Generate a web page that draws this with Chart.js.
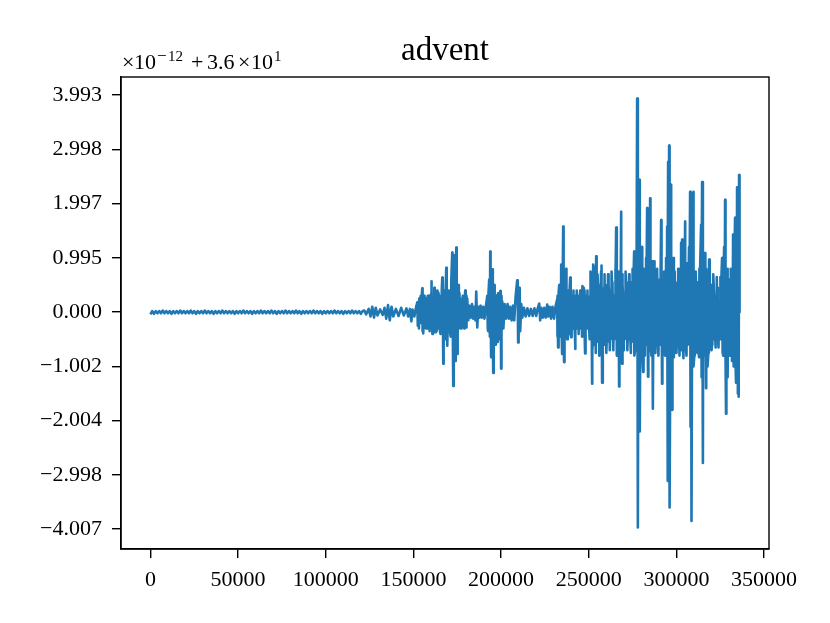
<!DOCTYPE html>
<html>
<head>
<meta charset="utf-8">
<script src="https://cdn.jsdelivr.net/npm/chart.js@4.4.1/dist/chart.umd.min.js"></script>
<style>
html,body{margin:0;padding:0;background:#fff;}
#wrap{width:830px;height:623px;}
</style>
</head>
<body>
<div id="wrap"><canvas id="c" width="830" height="623"></canvas></div>
<script>
// ---- data (x = sample index, y = value in units of 1e-12, offset 36) ----
const chartTitle = "advent";
const xTickValues = [0, 50000, 100000, 150000, 200000, 250000, 300000, 350000];
const yTickValues = [3.993, 2.998, 1.997, 0.995, 0, -1.002, -2.004, -2.998, -4.007];
const yTickLabels = ["3.993", "2.998", "1.997", "0.995", "0.000", "\u22121.002", "\u22122.004", "\u22122.998", "\u22124.007"];

const quietSegment = [
[0,-0.04],[1000,0.02],[2000,-0.03],[3000,0.02],[4000,-0.02],[5000,0.02],[6000,-0.02],[7000,0.03],[8000,-0.02],[9000,0.02],
[10000,-0.02],[11000,0.02],[12000,-0.03],[13000,0.02],[14000,-0.02],[15000,0.02],[16000,-0.02],[17000,0.03],[18000,-0.02],[19000,0.02],
[20000,-0.02],[21000,0.02],[22000,-0.02],[23000,0.03],[24000,-0.02],[25000,0.02],[26000,-0.03],[27000,0.02],[28000,-0.02],[29000,0.02],
[30000,-0.02],[31000,0.03],[32000,-0.02],[33000,0.02],[34000,-0.02],[35000,0.02],[36000,-0.03],[37000,0.02],[38000,-0.02],[39000,0.02],
[40000,-0.02],[41000,0.03],[42000,-0.02],[43000,0.02],[44000,-0.02],[45000,0.02],[46000,-0.02],[47000,0.02],[48000,-0.03],[49000,0.02],
[50000,-0.02],[51000,0.02],[52000,-0.02],[53000,0.03],[54000,-0.02],[55000,0.02],[56000,-0.02],[57000,0.02],[58000,-0.03],[59000,0.02],
[60000,-0.02],[61000,0.02],[62000,-0.02],[63000,0.03],[64000,-0.02],[65000,0.02],[66000,-0.02],[67000,0.02],[68000,-0.02],[69000,0.03],
[70000,-0.02],[71000,0.02],[72000,-0.03],[73000,0.02],[74000,-0.02],[75000,0.02],[76000,-0.02],[77000,0.03],[78000,-0.02],[79000,0.02],
[80000,-0.02],[81000,0.02],[82000,-0.02],[83000,0.03],[84000,-0.02],[85000,0.02],[86000,-0.03],[87000,0.02],[88000,-0.02],[89000,0.02],
[90000,-0.02],[91000,0.02],[92000,-0.02],[93000,0.03],[94000,-0.02],[95000,0.02],[96000,-0.02],[97000,0.02],[98000,-0.03],[99000,0.02],
[100000,-0.02],[101000,0.02],[102000,-0.02],[103000,0.02],[104000,-0.02],[105000,0.03],[106000,-0.02],[107000,0.02],[108000,-0.02],[109000,0.02],
[110000,-0.03],[111000,0.02],[112000,-0.02],[113000,0.02],[114000,-0.02],[115000,0.03],[116000,-0.02],[117000,0.02],[118000,-0.02],[119000,0.02],
[120000,-0.03],[121000,0.02]
];

const riseSegment = [
[122000,0.03],[123000,-0.04],[124500,0.06],[125500,-0.08],[126500,0.10],[127500,-0.10],[128500,0.08],
[129500,-0.06],[131000,0.05],[132500,-0.05],[133500,0.08],[134500,-0.12],[135500,0.13],[136500,-0.15],
[137500,0.10],[138500,-0.08],[140000,0.06],[141500,-0.07],[143000,0.08],[144500,-0.06],[146000,0.07],
[147000,-0.08],[148000,0.06],[148800,-0.17],[149500,0.05],[150500,-0.08],[151500,0.09]
];

const burstSegmentA = [
[152200,0.18],[152800,-0.12],[153600,0.15],[154200,-0.2],[155040,0.44],[155600,-0.39],[156200,0.2],
[156800,-0.25],[157300,0.25],[158000,-0.3],[159000,0.3],[159600,-0.28],[160170,0.57],[160800,-0.4],
[161300,0.3],[161900,0.45],[162500,-0.37],[163000,0.3],[163600,0.4],[164200,-0.3],[164700,0.23],
[165300,-0.4],[165900,0.3],[166440,0.64],[167000,-0.95],[167600,0.4],[168200,-0.5],[168720,0.82],
[169300,-0.62],[169900,0.3],[170430,0.25],[171000,-0.4],[171600,0.6],[172140,1.1],[172700,-1.36],
[173280,1.05],[173800,-0.9],[174420,1.19],[175000,-0.77],[175600,0.5],[176130,0.3],[176700,-0.3],
[177300,0.25],[177840,-0.25],[178400,0.2],[179000,-0.3],[179550,0.4],[180100,-0.28],[180690,0.25],
[181300,-0.15],[182000,0.12],[182700,-0.1],[183400,0.15],[184100,-0.12],[184800,0.1],[185400,-0.15],
[185820,0.38],[186400,-0.28],[187000,0.1],[187600,-0.1],[188300,0.12],[189000,-0.1],[189800,0.1],
[190500,-0.12],[191300,0.1],[192090,0.3],[192600,-0.35],[193200,0.6],[193800,1.12],[194300,-0.83],
[194940,0.79],[195500,-1.12],[196100,0.5],[196700,-0.6],[197220,0.3],[197800,-0.55],[198400,0.2],
[199000,-0.5],[199500,0.39],[200000,-1.04],[200640,0.2],[201300,-0.3],[202000,0.15],[202900,-0.12],
[203700,0.15],[204500,-0.12],[205200,0.1],[206000,-0.15],[206800,0.12],[207500,-0.15],[208300,0.3],
[209190,0.59],[209700,-0.56],[210330,0.45],[210900,-0.35],[211500,0.15],[212100,-0.1],[213000,0.08],
[214000,-0.08],[215000,0.07],[216000,-0.07],[217000,0.06],[218000,-0.07],[219000,0.07],[220000,-0.07],
[220800,0.06],[221730,0.16],[222300,-0.15],[223000,0.08],[223800,-0.1],[224600,0.08],[225400,-0.1],
[226290,0.14],[226900,-0.08],[227700,0.1],[228500,-0.12],[229300,0.1],[230200,-0.12],[231000,0.1]
];

const burstSegmentB = [
[231990,0.24],[232500,-0.65],[233130,0.5],[233700,-0.4],[234270,0.88],[234800,-0.77],[235410,1.58],
[235900,-0.92],[236500,0.6],[237120,0.8],[237700,-0.5],[238300,0.4],[238830,-0.4],[239400,0.64],
[239970,-0.46],[240600,0.3],[241100,-0.3],[241680,0.2],[242200,-0.68],[242800,0.3],[243390,-0.3],
[244000,0.2],[244530,-0.25],[245200,0.3],[245800,-0.3],[246240,0.48],[246800,-0.4],[247380,0.4],
[247900,-0.76],[248500,0.3],[249090,-0.3],[249700,0.2],[250230,-0.3],[250800,0.3],[251370,0.57],
[251900,-1.32],[252510,0.88],[253100,-0.6],[253700,0.5],[254220,1.03],[254800,-0.45],[255400,0.4],
[255930,0.25],[256500,-0.4],[257070,0.86],[257600,-1.3],[258200,0.3],[258780,0.45],[259300,-0.6],
[259920,0.2],[260500,-0.3],[261100,0.3],[261630,0.35],[262200,-0.45],[262800,0.3],[263340,0.5],
[263900,-0.3],[264500,0.3],[265000,-0.4],[265620,1.56],[266200,-0.6],[266760,0.3],[267300,-1.37],
[267900,0.5],[268470,1.85],[269000,-0.95],[269600,0.3],[270180,0.27],[270700,-0.3],[271300,0.4],
[271890,0.4],[272400,-0.3],[273030,0.3],[273600,-0.4],[274170,0.55],[274700,-0.35],[275300,0.4],
[275880,1.12],[276400,-0.7],[277000,0.8],[277590,3.94],[278000,-3.97],[278500,2.0],[278730,2.44],
[279200,-2.2],[279800,1.2],[280440,1.2],[281000,-1.1],[281580,0.5],[282100,-0.3],[282700,1.0],
[283290,1.92],[283800,-1.19],[284400,1.5],[285000,2.1],[285500,-0.7],[286140,0.94],[286600,-1.78],
[287280,0.94],[287800,-0.5],[288400,0.4],[288990,0.4],[289500,-0.6],[290130,0.5],[290700,-0.55],
[291270,1.7],[291800,-1.32],[292400,0.5],[292980,0.4],[293500,-0.8],[294100,1.0],[294690,1.58],
[295000,-3.11],[295260,2.77],[295500,-2.5],[295830,3.07],[296200,-3.6],[296970,2.35],[297500,-1.8],
[298110,1.0],[298600,-0.83],[299200,0.4],[299820,0.45],[300400,-0.4],[300960,0.5],[301500,-0.45],
[302100,0.8],[302670,1.28],[303000,-0.7],[303240,1.34],[303800,-0.6],[304400,1.0],[304950,1.67],
[305500,-0.7],[306090,0.9],[306600,-0.45],[307200,1.2],[307800,2.22],[308100,-2.11],[308370,2.2],
[308700,-3.85],[309510,2.22],[310000,-1.0],[310600,0.5],[311220,0.5],[311700,-0.4],[312360,0.55],
[312900,-0.83],[313500,0.8],[314070,1.61],[314400,-1.2],[314640,2.4],[315100,-2.78],[315700,1.0],
[316350,1.09],[316900,-1.4],[317490,0.5],[318000,-1.0],[318630,0.97],[319200,-0.55],[319770,0.5],
[320300,-0.6],[320900,0.4],[321480,0.3],[322000,-0.35],[322600,0.3],[323190,0.27],[323700,-0.35],
[324330,0.2],[324900,-0.3],[325500,0.5],[326040,1.0],[326600,-0.8],[327200,1.2],[327750,2.07],
[328300,-1.87],[328890,0.67],[329400,-1.2],[330000,0.6],[330600,-0.8],[331170,0.67],[331700,-0.9],
[332310,1.43],[332800,-1.0],[333450,1.74],[334000,-1.3],[334590,2.3],[335100,-1.5],[335500,-1.56],
[335730,2.53],[336000,0.0]
];

// dense in-between oscillation read from the solid core of the bursts
const coreSegmentA = [
[152500,-0.25],[153300,0.25],[154600,0.25],[155300,-0.3],[156500,0.3],[157700,-0.3],[158500,0.3],[159300,-0.3],
[160500,0.3],[161600,-0.3],[162800,-0.3],[163300,0.3],[164500,-0.3],[165600,0.3],[166700,0.35],[167300,-0.35],
[168500,0.4],[169000,-0.35],[170100,-0.35],[170700,0.35],[171300,-0.4],[172400,0.45],[173000,-0.45],[173500,0.45],
[174100,-0.45],[174700,0.45],[175300,-0.4],[175900,0.3],[176400,-0.25],[177000,0.25],[177600,-0.25],[178100,0.2],
[178700,-0.2],[179300,0.25],[179800,-0.25],[180400,0.2]
];
const coreSegmentB = [
[192400,-0.3],[192900,0.35],[193500,-0.35],[194000,0.35],[194600,-0.35],[195200,0.35],[195800,-0.3],[196400,0.3],
[197000,-0.3],[197500,0.3],[198100,-0.3],[198700,0.3],[199300,-0.3],[199800,0.3],[200300,-0.25],
[209500,0.3],[210000,-0.3],[210600,0.3]
];
const coreSegmentC = [
[232200,0.3],[232800,0.35],[233400,-0.35],[234000,0.35],[234500,-0.35],[235100,0.35],[235650,-0.35],[236200,-0.3],
[236800,0.3],[237400,-0.3],[238000,0.3],[238600,-0.3],[239100,0.3],[239700,-0.3],[240300,0.3],[240900,-0.3],
[241400,0.3],[241900,-0.3],[242500,0.3],[243100,-0.3],[243700,0.3],[244300,-0.3],[244900,0.3],[245500,-0.3],
[246000,0.3],[246500,-0.3],[247100,0.3],[247600,-0.3],[248200,0.3],[248800,-0.3],[249400,0.3],[250000,-0.3]
];
const coreSegmentD = [
[250500,-0.5],[251500,0.55],[252500,-0.5],[253500,0.6],[254500,-0.55],[255500,0.5],[256500,-0.6],[257500,0.55],
[258500,-0.5],[259500,0.5],[260500,-0.55],[261500,0.5],[262500,-0.5],[263500,0.55],[264500,-0.5],[265500,0.6],
[266500,-0.6],[267500,0.55],[268500,-0.6],[269500,0.5],[270500,-0.5],[271500,0.55],[272500,-0.5],[273500,0.5],
[274500,-0.55],[275500,0.6],[276500,-0.6],[277500,0.7],[278200,-0.8],[279500,0.7],[280500,-0.7],[281500,0.6],
[282500,-0.6],[283500,0.65],[284500,-0.7],[285500,0.6],[286500,-0.6],[287500,0.55],[288500,-0.55],[289500,0.6],
[290500,-0.6],[291500,0.6],[292500,-0.6],[293500,0.55],[294500,-0.6],[295700,0.7],[296500,-0.7],[297500,0.6],
[298500,-0.6],[299500,0.55],[300500,-0.55],[301500,0.6],[302500,-0.6],[303500,0.65],[304500,-0.65],[305500,0.6],
[306500,-0.6],[307500,0.6],[308500,-0.7],[309500,0.6],[310500,-0.6],[311500,0.55],[312500,-0.55],[313200,-0.6],
[314500,0.65],[315500,-0.65],[316500,0.6],[317500,-0.6],[318500,0.55],[319500,-0.55],[320500,0.5],[321500,-0.5],
[322500,-0.45],[323500,0.45],[324500,-0.45],[325200,-0.5],[326500,0.55],[327500,-0.6],[328500,0.6],[329500,0.6],
[330500,0.55],[331500,-0.6],[332500,0.6],[333500,-0.65],[334500,-0.65],[335300,0.6]
];
const coreSegmentE = [
[251000,0.75],[252000,-0.7],[253000,0.8],[254000,-0.75],[255000,0.7],[256000,-0.8],[257000,0.75],[258000,-0.7],
[259000,0.7],[260000,-0.75],[261000,0.7],[262000,-0.7],[263000,0.75],[264000,-0.7],[265000,0.8],[266000,-0.8],
[267000,0.75],[268000,-0.8],[269000,0.7],[270000,-0.7],[271000,0.75],[272000,-0.7],[273000,0.7],[274000,-0.75],
[275000,0.8],[276000,-0.8],[277000,0.9],[278300,-0.9],[279000,0.9],[280000,-0.85],[281000,0.8],[282000,-0.8],
[283000,0.85],[284000,-0.85],[285200,0.8],[286000,-0.8],[287000,0.75],[288000,-0.75],[289000,0.8],[290000,-0.8],
[291000,0.8],[292000,-0.8],[293000,0.75],[294000,-0.8],[295100,0.9],[296000,-0.9],[297000,0.8],[298000,-0.8],
[299000,0.75],[300000,-0.75],[301000,0.8],[302000,-0.8],[303100,0.85],[304000,-0.85],[305000,0.8],[306000,-0.8],
[307000,0.8],[308000,-0.9],[309000,0.8],[310200,-0.8],[311000,0.75],[312000,-0.75],[313000,0.8],[314200,-0.85],
[315300,0.85],[316000,-0.8],[317000,0.8],[318200,-0.75],[319000,0.75],[320000,-0.7],[321000,0.7],[322200,-0.65],
[323000,0.65],[324000,-0.65],[325000,0.65],[326200,-0.75],[327000,0.8],[328000,-0.8],[329000,0.8],[330200,-0.8],
[331000,0.8],[332000,-0.8],[333000,0.85],[334200,-0.85],[335000,0.8]
];
const coreSegmentF = [
[232150,-0.45],[233150,0.45],[234150,-0.45],[235150,0.5],[236150,-0.5],[237150,0.45],[238150,-0.45],[239150,0.45],
[240150,-0.4],[241150,0.4],[242150,-0.45],[243150,0.4],[244150,-0.4],[245150,0.4],[246150,-0.45],[247150,0.45],
[248150,-0.45],[249150,0.4]
];
const coreSegmentG = [
[153150,-0.3],[154150,0.3],[155150,-0.35],[156150,0.3],[157150,-0.3],[158150,0.3],[159150,-0.35],[160150,0.35],
[161150,-0.35],[162150,0.35],[163150,-0.35],[164150,0.35],[165150,-0.35],[166150,0.4],[167150,-0.4],[168150,0.4],
[169150,-0.4],[170150,0.4],[171150,-0.45],[172150,0.45],[173150,-0.5],[174150,0.5],[175150,-0.45],[176150,0.35],
[177150,-0.3],[178150,0.3],[179150,-0.3],[180150,0.3],
[192750,0.4],[193650,-0.45],[194550,0.45],[195350,-0.45],[196250,0.4],[197350,-0.4],[198250,0.35],[199150,-0.35],
[200150,0.3]
];

const signal = [].concat(quietSegment, riseSegment, burstSegmentA, burstSegmentB,
                         coreSegmentA, coreSegmentB, coreSegmentC, coreSegmentD,
                         coreSegmentE, coreSegmentF, coreSegmentG)
  .sort((a, b) => a[0] - b[0])
  .map(p => ({x: p[0], y: p[1]}));
const xs = signal.map(p => p.x);
const ysAll = signal.map(p => p.y);
const xMinData = Math.min(...xs), xMaxData = Math.max(...xs);
const yMinData = Math.min(...ysAll), yMaxData = Math.max(...ysAll);
const xPad = (xMaxData - xMinData) * 0.05;
const yPad = (yMaxData - yMinData) * 0.05;

const SERIF = '"Liberation Serif", "DejaVu Serif", serif';

const framePlugin = {
  id: 'frame',
  afterDraw(chart) {
    const {ctx, chartArea: a} = chart;
    ctx.save();
    ctx.strokeStyle = '#000';
    ctx.lineWidth = 1.4;
    ctx.strokeRect(a.left, a.top, a.right - a.left, a.bottom - a.top);
    // title
    ctx.fillStyle = '#000';
    ctx.font = '33px ' + SERIF;
    ctx.textAlign = 'center';
    ctx.textBaseline = 'alphabetic';
    ctx.fillText(chartTitle, (a.left + a.right) / 2, 60);
    // offset text  ×10^{-12} + 3.6×10^{1}
    ctx.textAlign = 'left';
    const base = 69, sup = 61;
    const big = '22px ' + SERIF, small = '15px ' + SERIF, minus = '17px ' + SERIF;
    const parts = [
      ['\u00d7', big, base, 1], ['10', big, base, 13], ['\u2212', minus, sup, 36],
      ['12', small, sup, 47], ['+', big, base, 70], ['3.6', big, base, 86],
      ['\u00d7', big, base, 117], ['10', big, base, 130], ['1', small, sup, 153]
    ];
    for (const [t, f, y, dx] of parts) {
      ctx.font = f;
      ctx.fillText(t, a.left + dx, y);
    }
    ctx.restore();
  }
};

new Chart(document.getElementById('c'), {
  type: 'line',
  data: {
    datasets: [{
      data: signal,
      borderColor: '#1f77b4',
      borderWidth: 2.6,
      pointRadius: 0,
      tension: 0,
      fill: false,
      borderJoinStyle: 'round'
    }]
  },
  options: {
    responsive: false,
    animation: false,
    devicePixelRatio: 1,
    parsing: false,
    layout: {padding: {left: 0, right: 61, top: 77, bottom: 0}},
    plugins: {legend: {display: false}, tooltip: {enabled: false}, title: {display: false}},
    scales: {
      x: {
        type: 'linear',
        min: xMinData - xPad,
        max: xMaxData + xPad,
        afterBuildTicks: ax => { ax.ticks = xTickValues.map(v => ({value: v})); },
        afterFit: ax => { ax.height = 74; },
        grid: {display: true, drawOnChartArea: false, drawTicks: true, tickLength: 9, color: '#000', lineWidth: 1.4},
        border: {display: true, color: '#000', width: 1.4},
        ticks: {
          color: '#000', font: {family: SERIF, size: 22}, padding: 9, maxRotation: 0, autoSkip: false,
          callback: v => String(v)
        }
      },
      y: {
        type: 'linear',
        min: yMinData - yPad,
        max: yMaxData + yPad,
        afterBuildTicks: ax => { ax.ticks = yTickValues.map(v => ({value: Math.round(v)})); },
        afterFit: ax => { ax.width = 121; },
        grid: {display: true, drawOnChartArea: false, drawTicks: true, tickLength: 9, color: '#000', lineWidth: 1.4},
        border: {display: true, color: '#000', width: 1.4},
        ticks: {
          color: '#000', font: {family: SERIF, size: 22}, padding: 10, autoSkip: false,
          callback: (v, i) => yTickLabels[i]
        }
      }
    }
  },
  plugins: [framePlugin]
});
</script>
</body>
</html>
